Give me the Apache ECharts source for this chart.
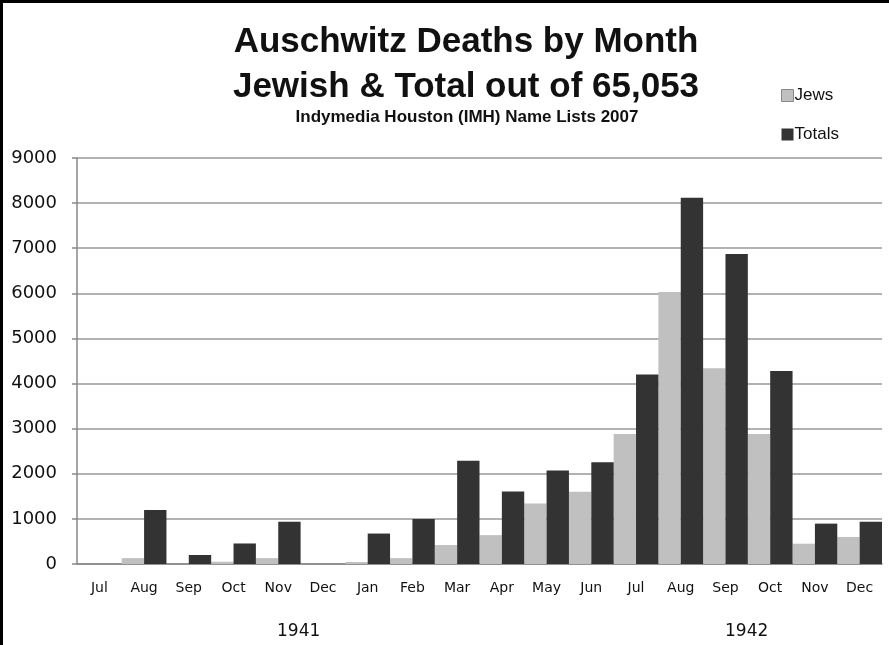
<!DOCTYPE html>
<html>
<head>
<meta charset="utf-8">
<script src="https://cdn.jsdelivr.net/npm/echarts@6/dist/echarts.min.js"></script>
<style>
html,body{margin:0;padding:0;background:#fff;}
#chart{width:889px;height:645px;}
#frame{position:absolute;left:0;top:0;width:889px;height:645px;border-left:3px solid #000;border-top:3px solid #000;box-sizing:border-box;pointer-events:none;}
</style>
</head>
<body>
<div id="chart"></div>
<div id="frame"></div>
<script>
const months = ['Jul','Aug','Sep','Oct','Nov','Dec','Jan','Feb','Mar','Apr','May','Jun','Jul','Aug','Sep','Oct','Nov','Dec'];
const jews   = [0,130,0,50,130,0,45,130,420,640,1340,1600,2880,6030,4340,2880,450,600];
const totals = [0,1195,200,455,935,0,675,995,2290,1605,2075,2255,4200,8120,6870,4280,895,935];
const yearLabels = ['1941','1942'];
const yTicks = {min:0, max:9000, interval:1000};

const titleFont = '"Liberation Sans", sans-serif';
const chart = echarts.init(document.getElementById('chart'), null, {renderer:'canvas'});
chart.setOption({
  backgroundColor:'#fff',
  animation:false,
  title:[
    {text:'Auschwitz Deaths by Month', left:461, top:20, textAlign:'center',
     textStyle:{fontFamily:titleFont, fontSize:35, fontWeight:'bold', color:'#111'}},
    {text:'Jewish & Total out of 65,053', left:461, top:65, textAlign:'center',
     textStyle:{fontFamily:titleFont, fontSize:35, fontWeight:'bold', color:'#111'}},
    {text:'Indymedia Houston (IMH) Name Lists 2007', left:462, top:104, textAlign:'center',
     textStyle:{fontFamily:titleFont, fontSize:17, fontWeight:'bold', color:'#111'}}
  ],
  legend:{
    orient:'vertical', left:776, top:82, itemWidth:12, itemHeight:12, itemGap:22,
    icon:'rect',
    textStyle:{fontFamily:titleFont, fontSize:17, color:'#111', padding:[0,0,0,-4]},
    data:[{name:'Jews', itemStyle:{borderColor:'#888', borderWidth:1}}, {name:'Totals'}]
  },
  grid:{left:77, right:7, top:158, bottom:81, containLabel:false},
  xAxis:{
    type:'category', data:months,
    axisLine:{show:true, lineStyle:{color:'#888', width:1.5}},
    axisTick:{show:false},
    axisLabel:{fontFamily:'DejaVu Sans', fontSize:14, color:'#111', margin:17, interval:0}
  },
  yAxis:{
    type:'value', min:yTicks.min, max:yTicks.max, interval:yTicks.interval,
    axisLine:{show:true, lineStyle:{color:'#888', width:1.5}},
    axisTick:{show:true, length:5, lineStyle:{color:'#888', width:1.5}},
    splitLine:{lineStyle:{color:'#999', width:1.5}},
    axisLabel:{fontFamily:'DejaVu Sans', fontSize:18, color:'#111', margin:20,
      formatter:function(v){return String(v);}}
  },
  series:[
    {name:'Jews', type:'bar', data:jews, barGap:'0%', barCategoryGap:'0%',
     itemStyle:{color:'#c0c0c0'}},
    {name:'Totals', type:'bar', data:totals, barGap:'0%', barCategoryGap:'0%',
     itemStyle:{color:'#333333'}}
  ],
  graphic:[
    {type:'text', left:277, top:623, style:{text:yearLabels[0], fontFamily:'DejaVu Sans', fontSize:17, fill:'#111'}},
    {type:'text', left:725, top:623, style:{text:yearLabels[1], fontFamily:'DejaVu Sans', fontSize:17, fill:'#111'}}
  ]
});
</script>
</body>
</html>
